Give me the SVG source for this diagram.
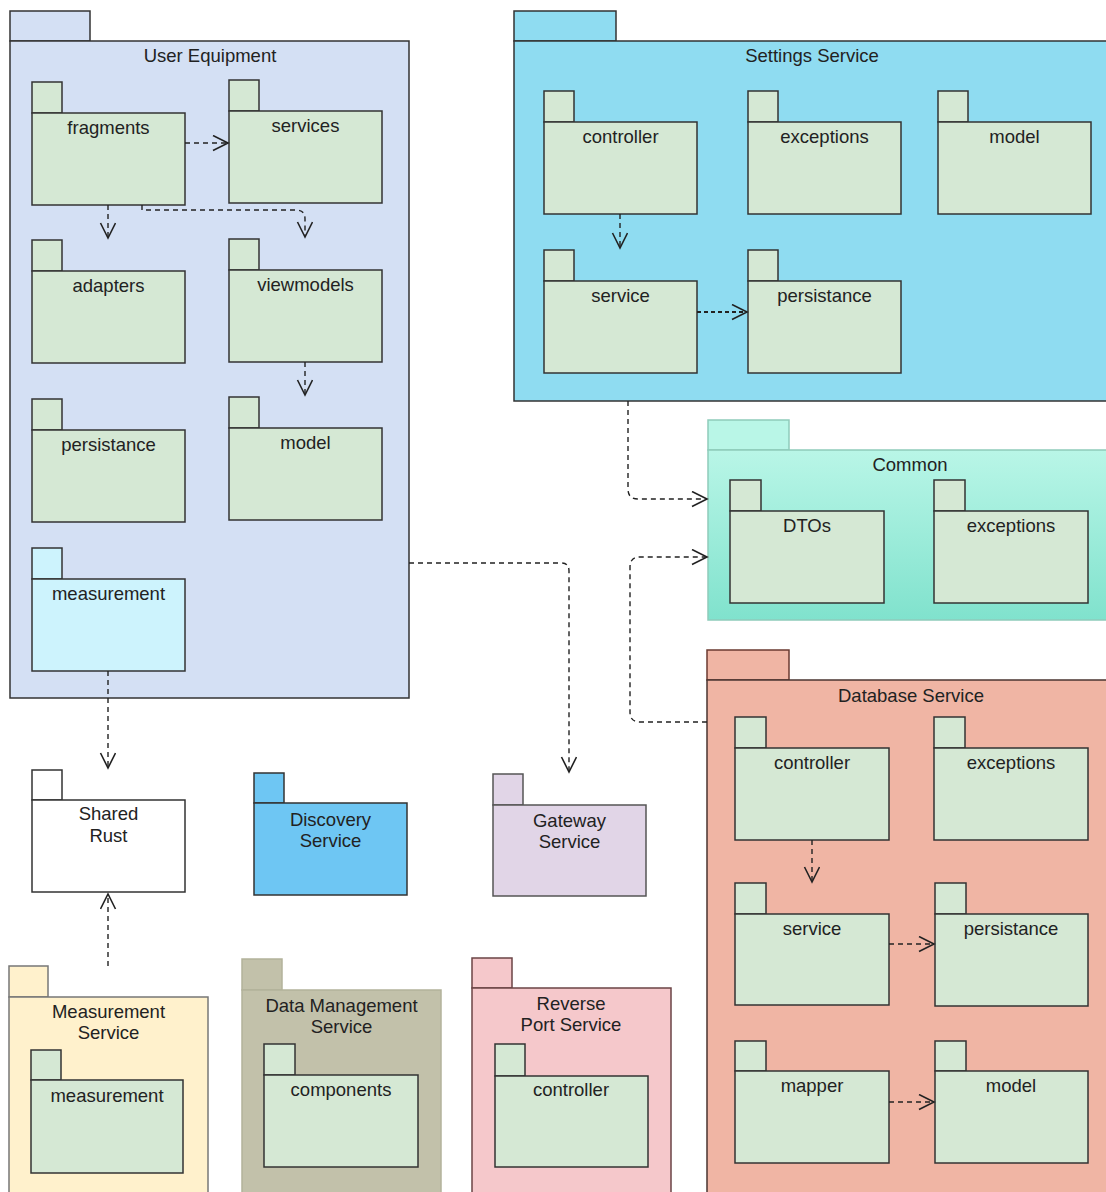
<svg xmlns="http://www.w3.org/2000/svg" width="1106" height="1192" viewBox="0 0 1106 1192">
  <defs>
    <style>
      text { font-family: "Liberation Sans", Arial, sans-serif; font-size: 18.5px; fill: #222; text-anchor: middle; }
      .pkg { stroke: #333; stroke-width: 1.5; }
      .inner { fill: #d5e8d4; stroke: #333; stroke-width: 1.5; }
      .dep { fill: none; stroke: #222; stroke-width: 1.4; stroke-dasharray: 5 4; marker-end: url(#open); }
      .dep.bold { stroke-width: 2.2; stroke-dasharray: 4 3; }
    </style>
    <linearGradient id="commonFill" x1="0" y1="0" x2="0" y2="1">
      <stop offset="0" stop-color="#b9f6e7"/>
      <stop offset="1" stop-color="#80e2cd"/>
    </linearGradient>
    <marker id="open" markerUnits="userSpaceOnUse" markerWidth="20" markerHeight="20" refX="16" refY="8" orient="auto">
      <path d="M1,0.5 L16,8 L1,15.5" fill="none" stroke="#222" stroke-width="1.6"/>
    </marker>
  </defs>

  <!-- User Equipment -->
  <g id="user-equipment">
    <rect class="pkg" x="10" y="11" width="80" height="30" fill="#d4e0f4"/>
    <rect class="pkg" x="10" y="41" width="399" height="657" fill="#d4e0f4"/>
    <text x="210" y="62">User Equipment</text>
  </g>
  <g id="ue-fragments">
    <rect class="inner" x="32" y="82" width="30" height="31"/>
    <rect class="inner" x="32" y="113" width="153" height="92"/>
    <text x="108.5" y="134">fragments</text>
  </g>
  <g id="ue-services">
    <rect class="inner" x="229" y="80" width="30" height="31"/>
    <rect class="inner" x="229" y="111" width="153" height="92"/>
    <text x="305.5" y="132">services</text>
  </g>
  <g id="ue-adapters">
    <rect class="inner" x="32" y="240" width="30" height="31"/>
    <rect class="inner" x="32" y="271" width="153" height="92"/>
    <text x="108.5" y="292">adapters</text>
  </g>
  <g id="ue-viewmodels">
    <rect class="inner" x="229" y="239" width="30" height="31"/>
    <rect class="inner" x="229" y="270" width="153" height="92"/>
    <text x="305.5" y="291">viewmodels</text>
  </g>
  <g id="ue-persistance">
    <rect class="inner" x="32" y="399" width="30" height="31"/>
    <rect class="inner" x="32" y="430" width="153" height="92"/>
    <text x="108.5" y="451">persistance</text>
  </g>
  <g id="ue-model">
    <rect class="inner" x="229" y="397" width="30" height="31"/>
    <rect class="inner" x="229" y="428" width="153" height="92"/>
    <text x="305.5" y="449">model</text>
  </g>
  <g id="ue-measurement">
    <rect class="inner" x="32" y="548" width="30" height="31" style="fill:#cdf3fd"/>
    <rect class="inner" x="32" y="579" width="153" height="92" style="fill:#cdf3fd"/>
    <text x="108.5" y="600">measurement</text>
  </g>

  <!-- Settings Service -->
  <g id="settings-service">
    <rect class="pkg" x="514" y="11" width="102" height="30" fill="#8fdcf1"/>
    <rect class="pkg" x="514" y="41" width="600" height="360" fill="#8fdcf1"/>
    <text x="812" y="62">Settings Service</text>
  </g>
  <g id="ss-controller">
    <rect class="inner" x="544" y="91" width="30" height="31"/>
    <rect class="inner" x="544" y="122" width="153" height="92"/>
    <text x="620.5" y="143">controller</text>
  </g>
  <g id="ss-exceptions">
    <rect class="inner" x="748" y="91" width="30" height="31"/>
    <rect class="inner" x="748" y="122" width="153" height="92"/>
    <text x="824.5" y="143">exceptions</text>
  </g>
  <g id="ss-model">
    <rect class="inner" x="938" y="91" width="30" height="31"/>
    <rect class="inner" x="938" y="122" width="153" height="92"/>
    <text x="1014.5" y="143">model</text>
  </g>
  <g id="ss-service">
    <rect class="inner" x="544" y="250" width="30" height="31"/>
    <rect class="inner" x="544" y="281" width="153" height="92"/>
    <text x="620.5" y="302">service</text>
  </g>
  <g id="ss-persistance">
    <rect class="inner" x="748" y="250" width="30" height="31"/>
    <rect class="inner" x="748" y="281" width="153" height="92"/>
    <text x="824.5" y="302">persistance</text>
  </g>

  <!-- Common -->
  <g id="common">
    <rect x="708" y="420" width="81" height="30" fill="#b9f6e7" stroke="#8fcbbb" stroke-width="1.5"/>
    <rect x="708" y="450" width="410" height="170" fill="url(#commonFill)" stroke="#8fcbbb" stroke-width="1.5"/>
    <text x="910" y="471">Common</text>
  </g>
  <g id="common-dtos">
    <rect class="inner" x="730" y="480" width="31" height="31"/>
    <rect class="inner" x="730" y="511" width="154" height="92"/>
    <text x="807" y="532">DTOs</text>
  </g>
  <g id="common-exceptions">
    <rect class="inner" x="934" y="480" width="31" height="31"/>
    <rect class="inner" x="934" y="511" width="154" height="92"/>
    <text x="1011" y="532">exceptions</text>
  </g>

  <!-- Database Service -->
  <g id="database-service">
    <rect class="pkg" x="707" y="650" width="82" height="30" fill="#f0b5a4" style="stroke:#6b3a30"/>
    <rect class="pkg" x="707" y="680" width="410" height="520" fill="#f0b5a4" style="stroke:#4a3530"/>
    <text x="911" y="702">Database Service</text>
  </g>
  <g id="db-controller">
    <rect class="inner" x="735" y="717" width="31" height="31"/>
    <rect class="inner" x="735" y="748" width="154" height="92"/>
    <text x="812" y="769">controller</text>
  </g>
  <g id="db-exceptions">
    <rect class="inner" x="934" y="717" width="31" height="31"/>
    <rect class="inner" x="934" y="748" width="154" height="92"/>
    <text x="1011" y="769">exceptions</text>
  </g>
  <g id="db-service">
    <rect class="inner" x="735" y="883" width="31" height="31"/>
    <rect class="inner" x="735" y="914" width="154" height="91"/>
    <text x="812" y="935">service</text>
  </g>
  <g id="db-persistance">
    <rect class="inner" x="935" y="883" width="31" height="31"/>
    <rect class="inner" x="935" y="914" width="153" height="92"/>
    <text x="1011" y="935">persistance</text>
  </g>
  <g id="db-mapper">
    <rect class="inner" x="735" y="1041" width="31" height="30"/>
    <rect class="inner" x="735" y="1071" width="154" height="92"/>
    <text x="812" y="1092">mapper</text>
  </g>
  <g id="db-model">
    <rect class="inner" x="935" y="1041" width="31" height="30"/>
    <rect class="inner" x="935" y="1071" width="153" height="92"/>
    <text x="1011" y="1092">model</text>
  </g>

  <!-- Standalone packages -->
  <g id="shared-rust">
    <rect class="pkg" x="32" y="770" width="30" height="30" fill="#ffffff"/>
    <rect class="pkg" x="32" y="800" width="153" height="92" fill="#ffffff"/>
    <text x="108.5" y="820">Shared</text>
    <text x="108.5" y="842">Rust</text>
  </g>
  <g id="discovery-service">
    <rect class="pkg" x="254" y="773" width="30" height="30" fill="#6ec6f3"/>
    <rect class="pkg" x="254" y="803" width="153" height="92" fill="#6ec6f3"/>
    <text x="330.5" y="826">Discovery</text>
    <text x="330.5" y="847">Service</text>
  </g>
  <g id="gateway-service">
    <rect class="pkg" x="493" y="774" width="30" height="31" fill="#e1d5e7" style="stroke:#555"/>
    <rect class="pkg" x="493" y="805" width="153" height="91" fill="#e1d5e7" style="stroke:#555"/>
    <text x="569.5" y="827">Gateway</text>
    <text x="569.5" y="848">Service</text>
  </g>

  <g id="measurement-service">
    <rect class="pkg" x="9" y="966" width="39" height="31" fill="#fff1cc" style="stroke:#777"/>
    <rect class="pkg" x="9" y="997" width="199" height="203" fill="#fff1cc" style="stroke:#777"/>
    <text x="108.5" y="1018">Measurement</text>
    <text x="108.5" y="1039">Service</text>
  </g>
  <g id="ms-measurement">
    <rect class="inner" x="31" y="1050" width="30" height="30"/>
    <rect class="inner" x="31" y="1080" width="152" height="93"/>
    <text x="107" y="1102">measurement</text>
  </g>

  <g id="data-management-service">
    <rect x="242" y="959" width="40" height="31" fill="#c2c1aa" stroke="#b3b29b" stroke-width="1.5"/>
    <rect x="242" y="990" width="199" height="210" fill="#c2c1aa" stroke="#b3b29b" stroke-width="1.5"/>
    <text x="341.5" y="1012">Data Management</text>
    <text x="341.5" y="1033">Service</text>
  </g>
  <g id="dm-components">
    <rect class="inner" x="264" y="1044" width="31" height="31"/>
    <rect class="inner" x="264" y="1075" width="154" height="92"/>
    <text x="341" y="1096">components</text>
  </g>

  <g id="reverse-port-service">
    <rect class="pkg" x="472" y="958" width="40" height="30" fill="#f5c8cb" style="stroke:#6b4446"/>
    <rect class="pkg" x="472" y="988" width="199" height="212" fill="#f5c8cb" style="stroke:#6b4446"/>
    <text x="571" y="1010">Reverse</text>
    <text x="571" y="1031">Port Service</text>
  </g>
  <g id="rp-controller">
    <rect class="inner" x="495" y="1044" width="30" height="32"/>
    <rect class="inner" x="495" y="1076" width="153" height="91"/>
    <text x="571" y="1096">controller</text>
  </g>

  <!-- Dependencies -->
  <g id="connectors">
    <path class="dep" d="M185,143 L228,143"/>
    <path class="dep" d="M108,205 L108,238"/>
    <path class="dep" d="M142,205 L142,210 L296,210 Q305,210 305,219 L305,237"/>
    <path class="dep" d="M305,362 L305,395"/>
    <path class="dep" d="M620,214 L620,248"/>
    <path class="dep bold" d="M697,312 L747,312"/>
    <path class="dep" d="M628,401 L628,489 Q628,499 638,499 L707,499"/>
    <path class="dep" d="M707,722 L640,722 Q630,722 630,712 L630,567 Q630,557 640,557 L707,557"/>
    <path class="dep" d="M409,563 L561,563 Q569,563 569,571 L569,772"/>
    <path class="dep" d="M108,671 L108,768"/>
    <path class="dep" d="M108,966 L108,894"/>
    <path class="dep" d="M812,840 L812,882"/>
    <path class="dep" d="M889,944 L934,944"/>
    <path class="dep" d="M889,1102 L934,1102"/>
  </g>
</svg>
